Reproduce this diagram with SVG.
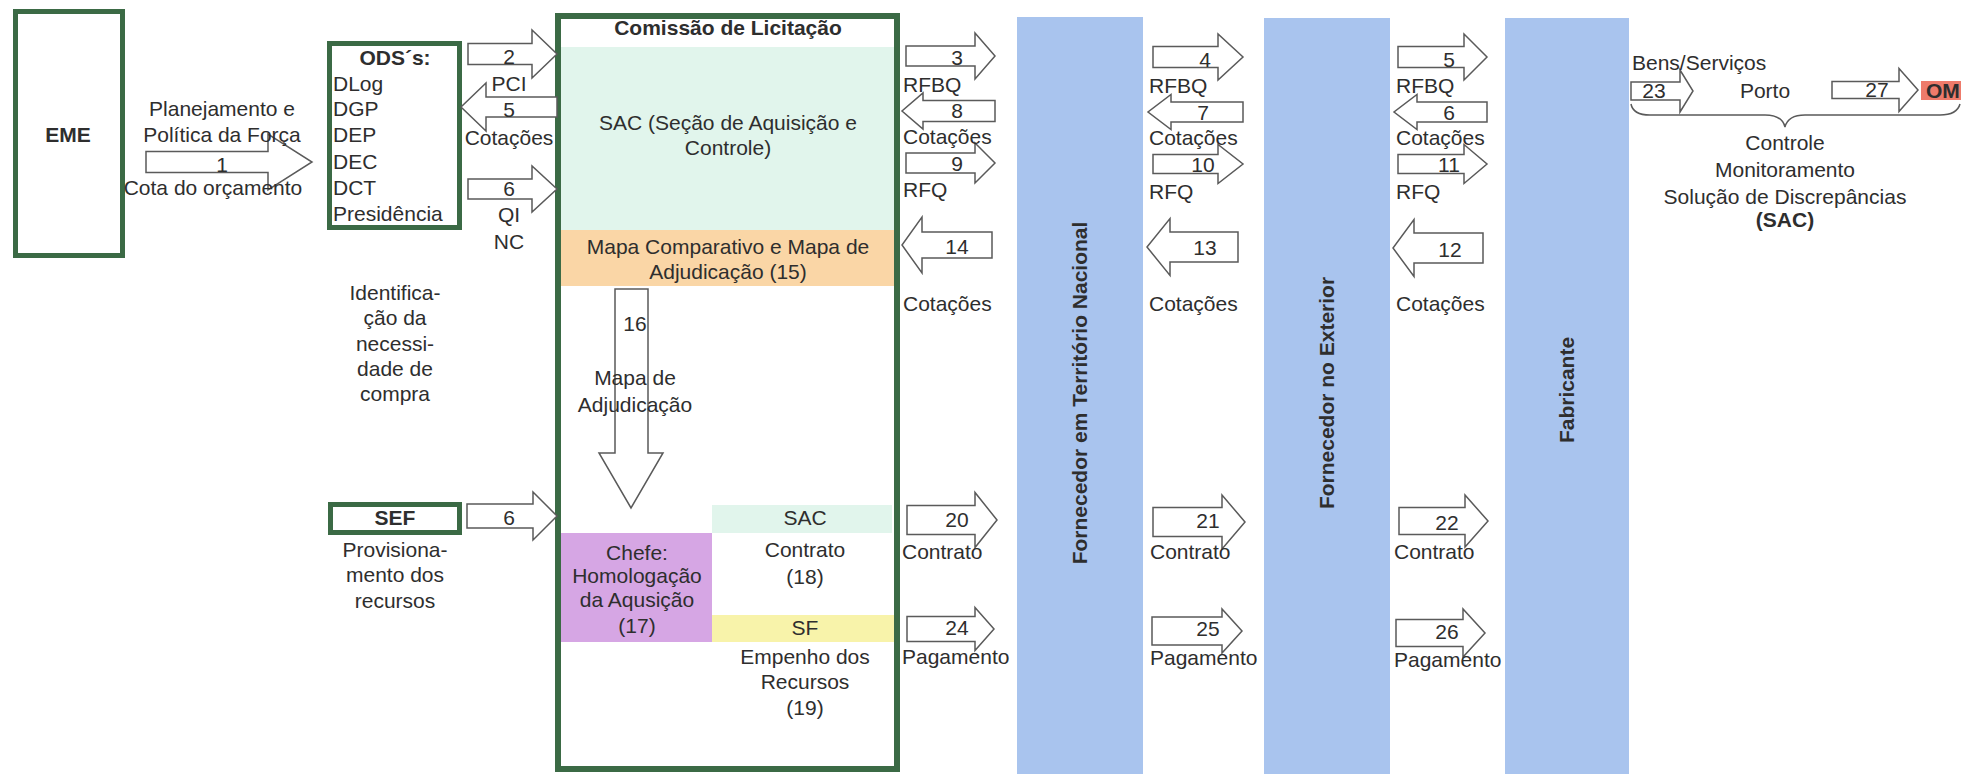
<svg xmlns="http://www.w3.org/2000/svg" width="1961" height="774" viewBox="0 0 1961 774">
<style>
.t{font-family:"Liberation Sans",Arial,sans-serif;font-size:21px;fill:#2e2e2e}
.b{font-weight:bold}
.c{text-anchor:middle}
.box{fill:#fff;stroke:#3b6a45;stroke-width:5}
.arr{fill:#fff;stroke:#5a5a5a;stroke-width:1.5}
.bar{fill:#a9c4ee}
</style>
<rect width="1961" height="774" fill="#fff"/>

<g id="eme">
<rect class="box" x="15.5" y="11.5" width="107" height="244"/>
<text class="t b c" x="68" y="142">EME</text>
</g>

<g id="ods">
<rect class="box" x="329.5" y="43.5" width="130" height="184"/>
<text class="t b c" x="395" y="65">ODS´s:</text>
<text class="t" x="333" y="91">DLog</text>
<text class="t" x="333" y="116">DGP</text>
<text class="t" x="333" y="142">DEP</text>
<text class="t" x="333" y="169">DEC</text>
<text class="t" x="333" y="195">DCT</text>
<text class="t" x="333" y="221">Presidência</text>
</g>

<g id="identificacao">
<text class="t c" x="395" y="300">Identifica-</text>
<text class="t c" x="395" y="325">ção da</text>
<text class="t c" x="395" y="351">necessi-</text>
<text class="t c" x="395" y="376">dade de</text>
<text class="t c" x="395" y="401">compra</text>
</g>

<g id="sef">
<rect class="box" x="330.5" y="504.5" width="129" height="28"/>
<text class="t b c" x="395" y="525">SEF</text>
<text class="t c" x="395" y="557">Provisiona-</text>
<text class="t c" x="395" y="582">mento dos</text>
<text class="t c" x="395" y="608">recursos</text>
</g>

<g id="comissao">
<rect x="558" y="16" width="339" height="753" fill="#fff" stroke="#3b6a45" stroke-width="6"/>
<rect x="561" y="47" width="333" height="183" fill="#e1f5ec"/>
<rect x="561" y="230" width="333" height="56" fill="#fad6a6"/>
<text class="t b c" x="728" y="35">Comissão de Licitação</text>
<text class="t c" x="728" y="130">SAC (Seção de Aquisição e</text>
<text class="t c" x="728" y="155">Controle)</text>
<text class="t c" x="728" y="254">Mapa Comparativo e Mapa de</text>
<text class="t c" x="728" y="279">Adjudicação (15)</text>
</g>

<g id="chefe">
<rect x="561" y="533" width="151" height="109" fill="#d6a6e4"/>
<text class="t c" x="637" y="560">Chefe:</text>
<text class="t c" x="637" y="583">Homologação</text>
<text class="t c" x="637" y="607">da Aqusição</text>
<text class="t c" x="637" y="633">(17)</text>
</g>

<g id="sac-contrato">
<rect x="712" y="505" width="180" height="28" fill="#e1f5ec"/>
<text class="t c" x="805" y="525">SAC</text>
<text class="t c" x="805" y="557">Contrato</text>
<text class="t c" x="805" y="584">(18)</text>
</g>

<g id="sf">
<rect x="712" y="615" width="182" height="27" fill="#f8f3aa"/>
<text class="t c" x="805" y="635">SF</text>
<text class="t c" x="805" y="664">Empenho dos</text>
<text class="t c" x="805" y="689">Recursos</text>
<text class="t c" x="805" y="715">(19)</text>
</g>

<g id="fornecedor-nacional">
<rect class="bar" x="1017" y="17" width="126" height="757"/>
<text class="t b c" transform="translate(1087,393) rotate(-90)">Fornecedor em Território Nacional</text>
</g>

<g id="fornecedor-exterior">
<rect class="bar" x="1264" y="18" width="126" height="756"/>
<text class="t b c" transform="translate(1334,393) rotate(-90)">Fornecedor no Exterior</text>
</g>

<g id="fabricante">
<rect class="bar" x="1505" y="18" width="124" height="756"/>
<text class="t b c" transform="translate(1574,390) rotate(-90)">Fabricante</text>
</g>

<g id="om">
<rect x="1921" y="81" width="45" height="19" fill="#ee7b6b"/>
<text class="t b" x="1926" y="98">OM</text>
</g>

<g id="controle">
<text class="t c" x="1785" y="150">Controle</text>
<text class="t c" x="1785" y="177">Monitoramento</text>
<text class="t c" x="1785" y="204">Solução de Discrepâncias</text>
<text class="t b c" x="1785" y="227">(SAC)</text>
</g>

<g id="connectors">
<path class="arr" d="M146,151.5 H268 V134 L312,162 L268,190 V172.5 H146 Z"/>
<path class="arr" d="M468,43.5 H532 V30 L557,54 L532,78 V64.5 H468 Z"/>
<path class="arr" d="M557,97 H486 V83 L461,107 L486,131 V117 H557 Z"/>
<path class="arr" d="M468,179 H532 V166 L557,189 L532,212 V199 H468 Z"/>
<path class="arr" d="M467,504 H533 V492 L557,516 L533,540 V528 H467 Z"/>
<path class="arr" d="M615,289 H648 V453 H663 L631,508 L599,453 H615 Z"/>

<path class="arr" d="M906,46 H975 V33 L995,56 L975,79 V66 H906 Z"/>
<path class="arr" d="M995,100.5 H923 V93 L902,111 L923,129 V121.5 H995 Z"/>
<path class="arr" d="M906,153 H975 V143 L995,163 L975,183 V173 H906 Z"/>
<path class="arr" d="M992,232 H922 V217 L902,245 L922,273 V258 H992 Z"/>

<path class="arr" d="M1153,46.5 H1218 V34 L1243,57 L1218,80 V67.5 H1153 Z"/>
<path class="arr" d="M1243,102 H1171 V94.5 L1148,112 L1171,129.5 V122 H1243 Z"/>
<path class="arr" d="M1153,154.5 H1218 V144.5 L1243,164 L1218,183.5 V173.5 H1153 Z"/>
<path class="arr" d="M1238,232 H1170 V218.5 L1147,247 L1170,275.5 V262 H1238 Z"/>

<path class="arr" d="M1398,46.5 H1464 V34 L1487,57 L1464,80 V67.5 H1398 Z"/>
<path class="arr" d="M1487,102 H1417 V94.5 L1394,112 L1417,129.5 V122 H1487 Z"/>
<path class="arr" d="M1398,154.5 H1464 V144.5 L1487,164 L1464,183.5 V173.5 H1398 Z"/>
<path class="arr" d="M1483,233 H1414 V219.5 L1393,248 L1414,276.5 V263 H1483 Z"/>

<path class="arr" d="M907,505.5 H975 V492.5 L997,520 L975,547.5 V534.5 H907 Z"/>
<path class="arr" d="M907,616.5 H975 V607.5 L994,629 L975,650.5 V641.5 H907 Z"/>
<path class="arr" d="M1153,507.5 H1222 V495 L1245,522 L1222,549 V536.5 H1153 Z"/>
<path class="arr" d="M1152,617 H1222 V609 L1242,631 L1222,653 V645 H1152 Z"/>
<path class="arr" d="M1399,507.5 H1465 V495 L1488,521 L1465,547 V534.5 H1399 Z"/>
<path class="arr" d="M1396,619.5 H1463 V609 L1485,633 L1463,657 V646.5 H1396 Z"/>

<path class="arr" d="M1631,82 H1680 V70 L1693,91 L1680,112 V100 H1631 Z"/>
<path class="arr" d="M1832,81.5 H1899 V68.5 L1918,90 L1899,111.5 V98.5 H1832 Z"/>
<path d="M1631,104 Q1633,115 1650,115 H1765 Q1782,115 1785,127 Q1788,115 1805,115 H1940 Q1957,115 1960,104" fill="none" stroke="#5a5a5a" stroke-width="1.5"/>

<text class="t c" x="222" y="116">Planejamento e</text>
<text class="t c" x="222" y="142">Política da Força</text>
<text class="t c" x="222" y="172">1</text>
<text class="t c" x="213" y="195">Cota do orçamento</text>

<text class="t c" x="509" y="64">2</text>
<text class="t c" x="509" y="91">PCI</text>
<text class="t c" x="509" y="117">5</text>
<text class="t c" x="509" y="145">Cotações</text>
<text class="t c" x="509" y="196">6</text>
<text class="t c" x="509" y="222">QI</text>
<text class="t c" x="509" y="249">NC</text>
<text class="t c" x="509" y="525">6</text>

<text class="t c" x="635" y="331">16</text>
<text class="t c" x="635" y="385">Mapa de</text>
<text class="t c" x="635" y="412">Adjudicação</text>

<text class="t c" x="957" y="65">3</text>
<text class="t" x="903" y="92">RFBQ</text>
<text class="t c" x="957" y="118">8</text>
<text class="t" x="903" y="144">Cotações</text>
<text class="t c" x="957" y="171">9</text>
<text class="t" x="903" y="197">RFQ</text>
<text class="t c" x="957" y="254">14</text>
<text class="t" x="903" y="311">Cotações</text>

<text class="t c" x="1205" y="67">4</text>
<text class="t" x="1149" y="93">RFBQ</text>
<text class="t c" x="1203" y="120">7</text>
<text class="t" x="1149" y="145">Cotações</text>
<text class="t c" x="1203" y="172">10</text>
<text class="t" x="1149" y="199">RFQ</text>
<text class="t c" x="1205" y="255">13</text>
<text class="t" x="1149" y="311">Cotações</text>

<text class="t c" x="1449" y="67">5</text>
<text class="t" x="1396" y="93">RFBQ</text>
<text class="t c" x="1449" y="120">6</text>
<text class="t" x="1396" y="145">Cotações</text>
<text class="t c" x="1449" y="172">11</text>
<text class="t" x="1396" y="199">RFQ</text>
<text class="t c" x="1450" y="257">12</text>
<text class="t" x="1396" y="311">Cotações</text>

<text class="t c" x="957" y="527">20</text>
<text class="t" x="902" y="559">Contrato</text>
<text class="t c" x="957" y="635">24</text>
<text class="t" x="902" y="664">Pagamento</text>
<text class="t c" x="1208" y="528">21</text>
<text class="t" x="1150" y="559">Contrato</text>
<text class="t c" x="1208" y="636">25</text>
<text class="t" x="1150" y="665">Pagamento</text>
<text class="t c" x="1447" y="530">22</text>
<text class="t" x="1394" y="559">Contrato</text>
<text class="t c" x="1447" y="639">26</text>
<text class="t" x="1394" y="667">Pagamento</text>

<text class="t" x="1632" y="70">Bens/Serviços</text>
<text class="t c" x="1654" y="98">23</text>
<text class="t c" x="1765" y="98">Porto</text>
<text class="t c" x="1877" y="97">27</text>
</g>
</svg>
